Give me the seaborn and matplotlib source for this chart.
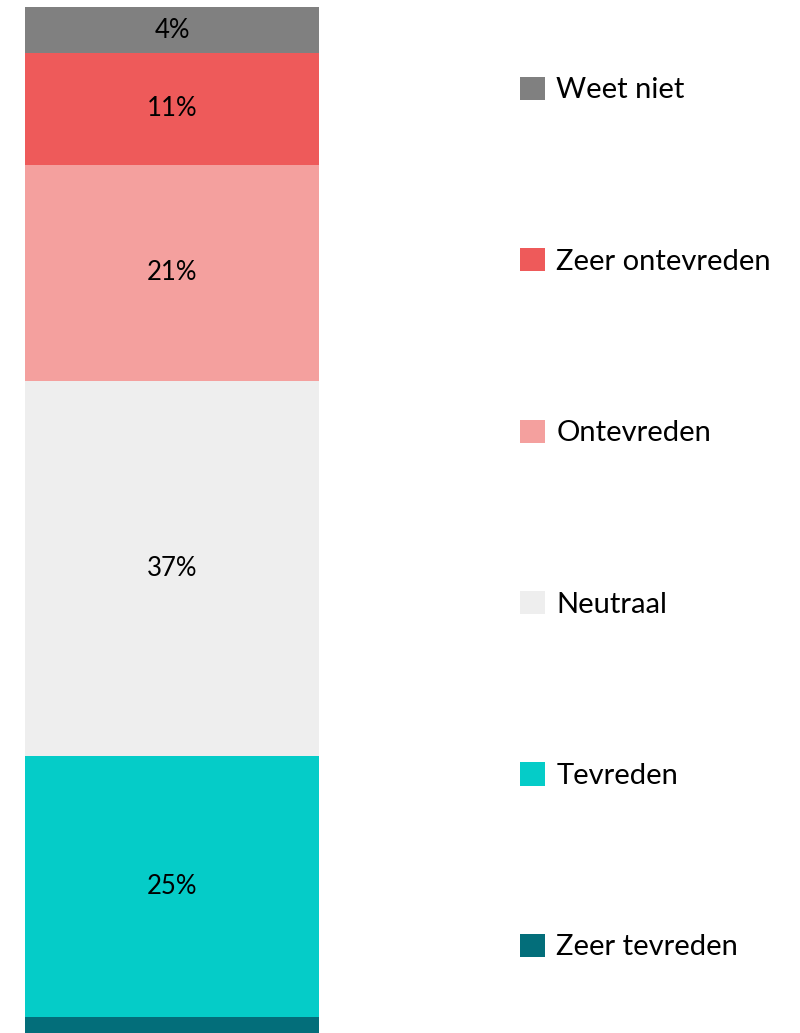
import matplotlib
matplotlib.use("Agg")
import matplotlib.pyplot as plt
from matplotlib.patches import Patch
import pandas as pd
import seaborn as sns

# segments from bottom to top
categories = ["Zeer tevreden", "Tevreden", "Neutraal", "Ontevreden", "Zeer ontevreden", "Weet niet"]
values = [1.6, 25.4, 36.6, 21.1, 10.9, 4.5]
labels = ["", "25%", "37%", "21%", "11%", "4%"]
colors = ["#036E7A", "#05CCC8", "#EEEEEE", "#F4A09E", "#EE5A5A", "#808080"]

sns.set_style("white")
plt.rcParams["font.family"] = ["Lato", "DejaVu Sans"]
plt.rcParams["text.color"] = "black"

df = pd.DataFrame({"cat": categories, "val": values, "lab": labels})
df["bottom"] = df["val"].cumsum() - df["val"]
df["x"] = "all"

fig = plt.figure(figsize=(8, 10.33), dpi=100)
ax = fig.add_axes([25 / 800, 0, 294 / 800, 1])

for i, row in df.iterrows():
    sns.barplot(x=[row["x"]], y=[row["val"]], bottom=row["bottom"], color=colors[i],
                width=1.0, ax=ax, saturation=1, linewidth=0)
    if row["lab"]:
        ax.text(0, row["bottom"] + row["val"] / 2, row["lab"], ha="center", va="center",
                fontsize=18.5, color="black")

total = df["val"].sum()
ax.set_ylim(0, total * 1033 / 1026)
ax.set_xlim(-0.5, 0.5)
ax.axis("off")

handles = [Patch(facecolor=colors[i], edgecolor="none", label=categories[i])
           for i in range(len(categories) - 1, -1, -1)]
leg = fig.legend(handles=handles, loc="center left", bbox_to_anchor=(520 / 800, 0.498),
                 frameon=False, fontsize=21, handlelength=0.85, handleheight=0.85,
                 handletextpad=0.4, labelspacing=4.96, borderpad=0, borderaxespad=0)
for t in leg.get_texts():
    t.set_color("black")

fig.savefig("out.png", dpi=100)
